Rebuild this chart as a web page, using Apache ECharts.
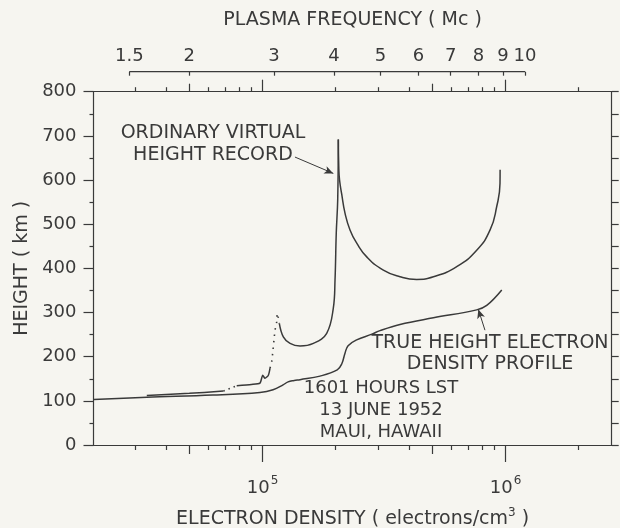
<!DOCTYPE html>
<html>
<head>
<meta charset="utf-8">
<script src="https://cdn.jsdelivr.net/npm/echarts@6/dist/echarts.min.js"></script>
<style>
html,body{margin:0;padding:0;background:#f6f5f0;}
#chart{width:620px;height:528px;}
</style>
</head>
<body>
<div id="chart"></div>
<script>
// ---- axis ranges / ticks ----
const densityRange = [2.016e4, 2.735e6];
const freqRange = [1.2636, 15.15];
const heightRange = [0, 800];
const densityMajorTicks = [1e5, 1e6];
const densityMidTicks = [5e4, 5e5];
const densityMinorTicks = [3e4, 4e4, 6e4, 7e4, 8e4, 9e4, 2e5, 3e5, 4e5, 6e5, 7e5, 8e5, 9e5, 2e6];
const freqTicks = [1.5, 2, 3, 4, 5, 6, 7, 8, 9, 10];
const freqLabels = ['1.5', '2', '3', '4', '5', '6', '7', '8', '9', '10'];
const freqScaleSpan = [1.5, 10];

// ---- curves: [electron density (cm^-3), height (km)] ----
const trueHeightProfile = [
  [2.02e4, 103], [3.34e4, 108], [6.25e4, 113], [9.76e4, 119], [1.105e5, 125],
  [1.215e5, 136], [1.274e5, 143], [1.35e5, 146], [1.427e5, 148], [1.724e5, 156],
  [2.03e5, 170], [2.12e5, 184], [2.185e5, 208], [2.25e5, 225], [2.44e5, 238],
  [2.82e5, 251], [3.044e5, 259], [3.68e5, 273], [5.05e5, 288], [7.61e5, 306],
  [8.37e5, 316], [9.65e5, 351]
];
const recordSolidA = [[3.34e4, 112], [5.0e4, 117], [6.9e4, 122]];
const recordDottedB = [[6.9e4, 122], [7.83e4, 134]];
const recordSolidC = [
  [7.83e4, 134], [9.0e4, 137], [9.76e4, 140], [1.002e5, 158], [1.024e5, 151],
  [1.057e5, 158], [1.074e5, 174]
];
const recordDottedD = [
  [1.074e5, 174], [1.091e5, 189], [1.101e5, 208], [1.115e5, 238], [1.126e5, 260],
  [1.144e5, 279], [1.15e5, 298], [1.16e5, 290], [1.173e5, 275]
];
const recordRiseE = [
  [1.173e5, 275], [1.218e5, 245], [1.298e5, 230], [1.427e5, 224], [1.619e5, 230],
  [1.837e5, 253], [1.956e5, 310], [1.988e5, 374], [2.011e5, 479], [2.039e5, 555],
  [2.051e5, 692]
];
const recordFallF = [
  [2.051e5, 692], [2.061e5, 625], [2.075e5, 600], [2.118e5, 568], [2.185e5, 525],
  [2.291e5, 487], [2.442e5, 457], [2.685e5, 426], [3.142e5, 396], [3.68e5, 381],
  [4.31e5, 375], [5.05e5, 381], [6.3e5, 404], [7.61e5, 441],
  [8.64e5, 487], [9.2e5, 540], [9.49e5, 592], [9.5e5, 623]
];
// annotation arrows [from, to] in data space
const recordArrow = [[1.36e5, 652], [1.956e5, 615]];
const profileArrow = [[8.23e5, 260], [7.73e5, 307]];

const INK = '#3a3a3a';
const FONT = '"DejaVu Sans", sans-serif';

const chart = echarts.init(document.getElementById('chart'), null, {renderer: 'canvas'});

function densityAxis(pos, ticks, len, showLine, label) {
  return {
    type: 'log', logBase: 10, position: pos, offset: 0,
    min: densityRange[0], max: densityRange[1],
    axisLine: {show: showLine, onZero: false, lineStyle: {color: INK, width: 1.2}},
    axisTick: {show: true, inside: false, length: len, customValues: ticks, lineStyle: {color: INK, width: 1.2}},
    axisLabel: label || {show: false},
    splitLine: {show: false},
    minorTick: {show: false}
  };
}

const curveStyle = {color: INK, width: 1.5};

const option = {
  backgroundColor: '#f6f5f0',
  animation: false,
  grid: {left: 93.5, right: 8.3, top: 91.7, bottom: 83, containLabel: false, outerBoundsMode: 'none'},
  xAxis: [
    Object.assign(densityAxis('bottom', densityMajorTicks, 17, true, {
      show: true, customValues: densityMajorTicks, margin: 30,
      formatter: v => '{a|10}{b|' + Math.round(Math.log10(v)) + '}',
      rich: {
        a: {fontSize: 18, fontFamily: FONT, color: INK, verticalAlign: 'bottom', lineHeight: 22},
        b: {fontSize: 12, fontFamily: FONT, color: INK, verticalAlign: 'top', lineHeight: 12, padding: [0, 0, 0, 1]}
      }
    }), {
      name: '{n|ELECTRON DENSITY ( electrons/cm}{s|3}{n| )}',
      nameLocation: 'middle', nameGap: 62,
      nameTextStyle: {
        rich: {
          n: {fontSize: 19, fontFamily: FONT, color: INK, verticalAlign: 'bottom', lineHeight: 22},
          s: {fontSize: 12, fontFamily: FONT, color: INK, verticalAlign: 'top', lineHeight: 12}
        }
      }
    }),
    densityAxis('bottom', densityMidTicks, 9, false),
    densityAxis('bottom', densityMinorTicks, 5, false),
    densityAxis('top', densityMajorTicks, 12, true),
    densityAxis('top', densityMidTicks, 8, false),
    densityAxis('top', densityMinorTicks, 4.5, false),
    {
      type: 'log', logBase: 10, position: 'top', offset: 20,
      min: freqRange[0], max: freqRange[1],
      axisLine: {show: false, onZero: false},
      axisTick: {show: true, inside: true, length: 4, customValues: freqTicks, lineStyle: {color: INK, width: 1.2}},
      axisLabel: {
        show: true, customValues: freqTicks, margin: 6,
        formatter: v => freqLabels[freqTicks.findIndex(t => Math.abs(t - v) < 1e-6)] || '',
        fontSize: 18, fontFamily: FONT, color: INK
      },
      splitLine: {show: false},
      name: 'PLASMA FREQUENCY ( Mc )',
      nameLocation: 'middle', nameGap: 42,
      nameTextStyle: {fontSize: 19, fontFamily: FONT, color: INK}
    }
  ],
  yAxis: [
    {
      type: 'value', position: 'left', min: heightRange[0], max: heightRange[1], interval: 100,
      axisLine: {show: true, onZero: false, lineStyle: {color: INK, width: 1.2}},
      axisTick: {show: true, inside: false, length: 10, lineStyle: {color: INK, width: 1.2}},
      minorTick: {show: true, splitNumber: 2, length: 4, lineStyle: {color: INK, width: 1.2}},
      axisLabel: {fontSize: 18, fontFamily: FONT, color: INK, margin: 17},
      splitLine: {show: false},
      name: 'HEIGHT ( km )', nameLocation: 'middle', nameGap: 62, nameRotate: 90,
      nameTextStyle: {fontSize: 19, fontFamily: FONT, color: INK}
    },
    {
      type: 'value', position: 'right', min: heightRange[0], max: heightRange[1], interval: 50,
      axisLine: {show: true, onZero: false, lineStyle: {color: INK, width: 1.2}},
      axisTick: {show: true, inside: false, length: 7, lineStyle: {color: INK, width: 1.2}},
      axisLabel: {show: false},
      splitLine: {show: false}
    }
  ],
  series: [
    {
      type: 'line', name: 'true', xAxisIndex: 0, yAxisIndex: 0, data: trueHeightProfile,
      showSymbol: false, smooth: 0.4, lineStyle: curveStyle,
      markLine: {
        silent: true, symbol: ['none', 'arrow'], symbolSize: [6, 9],
        label: {show: false}, lineStyle: {color: INK, width: 1, type: 'solid'},
        data: [[{coord: profileArrow[0]}, {coord: profileArrow[1]}]]
      }
    },
    {type: 'line', xAxisIndex: 0, yAxisIndex: 0, data: recordSolidA,
     showSymbol: false, smooth: 0.3, lineStyle: curveStyle},
    {type: 'line', xAxisIndex: 0, yAxisIndex: 0, data: recordDottedB,
     showSymbol: false, lineStyle: {color: INK, width: 1.6, type: [1.5, 4]}},
    {type: 'line', xAxisIndex: 0, yAxisIndex: 0, data: recordSolidC,
     showSymbol: false, smooth: 0.2, lineStyle: curveStyle},
    {type: 'line', xAxisIndex: 0, yAxisIndex: 0, data: recordDottedD,
     showSymbol: false, smooth: 0.2, lineStyle: {color: INK, width: 1.6, type: [1.5, 5]}},
    {
      type: 'line', name: 'record', xAxisIndex: 0, yAxisIndex: 0, data: recordRiseE,
      showSymbol: false, smooth: 0.4, lineStyle: curveStyle,
      markLine: {
        silent: true, symbol: ['none', 'arrow'], symbolSize: [6, 9],
        label: {show: false}, lineStyle: {color: INK, width: 1, type: 'solid'},
        data: [[{coord: recordArrow[0]}, {coord: recordArrow[1]}]]
      }
    },
    {type: 'line', xAxisIndex: 0, yAxisIndex: 0, data: recordFallF,
     showSymbol: false, smooth: 0.5, lineStyle: curveStyle},
    {
      type: 'custom', xAxisIndex: 6, yAxisIndex: 0, clip: false, silent: true,
      data: [[freqScaleSpan[0], freqScaleSpan[1]]],
      renderItem: function (params, api) {
        const p1 = api.coord([api.value(0), heightRange[1]]);
        const p2 = api.coord([api.value(1), heightRange[1]]);
        return {
          type: 'line',
          shape: {x1: p1[0], y1: p1[1] - 20, x2: p2[0], y2: p2[1] - 20},
          style: {stroke: INK, lineWidth: 1.2}
        };
      }
    }
  ],
  graphic: [
    {type: 'text', x: 213, y: 144, silent: true,
     style: {text: 'ORDINARY VIRTUAL\nHEIGHT RECORD', fontSize: 19, fontFamily: FONT, fill: INK,
             align: 'center', verticalAlign: 'middle', lineHeight: 22}},
    {type: 'text', x: 490, y: 353.5, silent: true,
     style: {text: 'TRUE HEIGHT ELECTRON\nDENSITY PROFILE', fontSize: 19, fontFamily: FONT, fill: INK,
             align: 'center', verticalAlign: 'middle', lineHeight: 21}},
    {type: 'text', x: 381, y: 410, silent: true,
     style: {text: '1601 HOURS LST\n13 JUNE 1952\nMAUI, HAWAII', fontSize: 18, fontFamily: FONT, fill: INK,
             align: 'center', verticalAlign: 'middle', lineHeight: 22}}
  ]
};
chart.setOption(option);
</script>
</body>
</html>
